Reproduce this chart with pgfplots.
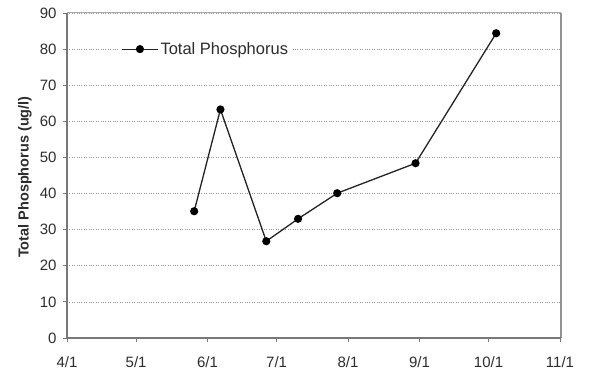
\documentclass[border=0pt]{standalone}
\usepackage{pgfplots}
\pgfplotsset{compat=1.18}
\usepackage{fontspec}
\setmainfont{Liberation Sans}
\definecolor{axgray}{RGB}{120,120,120}
\definecolor{bordergray}{RGB}{170,170,170}
\definecolor{gridgray}{RGB}{150,150,150}
\definecolor{labgray}{RGB}{45,45,45}
\definecolor{linegray}{RGB}{35,35,35}
\begin{document}
\begin{tikzpicture}[x=1pt,y=1pt]
\begin{axis}[
  name=ax,
  at={(67pt,34pt)}, anchor=south west,
  scale only axis,
  width=493pt, height=325pt,
  xmin=0, xmax=214, ymin=0, ymax=90,
  xtick={0,30,61,91,122,153,183,214},
  xticklabels={4/1,5/1,6/1,7/1,8/1,9/1,10/1,11/1},
  ytick={0,10,...,90},
  axis line style={draw=none},
  axis x line*=bottom, axis y line*=left,
  tick align=outside,
  major tick length=4pt,
  tick style={axgray, line width=0.8pt},
  ymajorgrids,
  grid style={gridgray, dotted, line width=0.6pt},
  /pgf/number format/assume math mode=true,
  ticklabel style={font=\fontsize{15}{17}\selectfont, text=labgray},
  xticklabel style={yshift=-11pt},
  yticklabel style={xshift=-3pt},
  ylabel={\textbf{Total Phosphorus (ug/l)}},
  every axis y label/.style={at={(rel axis cs:0,0.495)}, xshift=-42pt, rotate=90, anchor=center,
     font=\fontsize{14.5}{16}\selectfont, text=labgray},
  clip=false,
  legend style={at={(axis cs:22.2,80)}, anchor=west, draw=none, fill=white,
    font=\fontsize{16.5}{18}\selectfont, text=labgray, inner xsep=3pt, inner ysep=1pt},
  legend image code/.code={
    \draw[linegray, line width=1.2pt] (0pt,0pt) -- (36pt,0pt);
    \fill[black] (18pt,0pt) circle (3.4pt);
  },
  legend cell align=left,
]
\addplot[linegray, line width=1.3pt, mark=*, mark size=3.4pt, mark options={fill=black, draw=black}]
  coordinates {
  (55.2,35.1) (66.6,63.3) (86.5,26.8) (100.3,33.0) (117.3,40.1) (151.3,48.4) (186.3,84.4)
  };
\addlegendentry{Total Phosphorus}
\end{axis}
\draw[bordergray, line width=1pt] (67pt,359pt) -- (561pt,359pt);
\draw[axgray!80, line width=1.6pt] (561pt,359pt) -- (561pt,34pt);
\draw[axgray, line width=1.6pt] (67pt,359pt) -- (67pt,34pt) -- (561pt,34pt);
\pgfresetboundingbox
\useasboundingbox (0,0) rectangle (589pt,372pt);
\end{tikzpicture}
\end{document}
